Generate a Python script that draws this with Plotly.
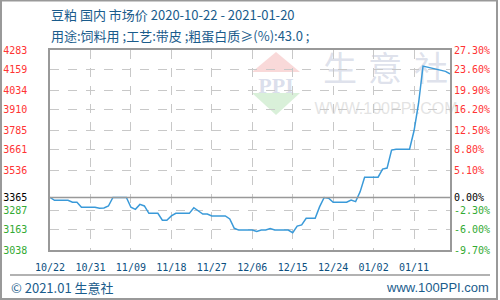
import plotly.graph_objects as go
import pandas as pd

# ---------------- data ----------------
start_date = "2020-10-22"
prices = [
    3365, 3347, 3347, 3347, 3347, 3335, 3335, 3304, 3304, 3304,   # d0-9
    3304, 3298, 3300, 3312, 3365, 3365, 3365, 3365, 3304, 3291,   # d10-19
    3322, 3312, 3266, 3266, 3266, 3223, 3223, 3250, 3266, 3266,   # d20-29
    3266, 3266, 3301, 3283, 3262, 3262, 3250, 3250, 3250, 3250,   # d30-39
    3231, 3173, 3162, 3162, 3162, 3162, 3154, 3162, 3162, 3171,   # d40-49
    3162, 3162, 3162, 3162, 3146, 3187, 3194, 3235, 3235, 3235,   # d50-59
    3308, 3365, 3360, 3335, 3335, 3335, 3335, 3349, 3339, 3400,   # d60-69
    3491, 3491, 3491, 3491, 3542, 3548, 3660, 3665, 3665, 3665,   # d70-79
    3665, 3780, 3950, 4183, 4176, 4169, 4163, 4158, 4150, 4134,   # d80-89
]
dates = pd.date_range(start_date, periods=len(prices)).strftime("%Y-%m-%d").tolist()

base_price = 3365
left_ticks = [4283, 4159, 4034, 3910, 3785, 3661, 3536, 3365, 3287, 3163, 3038]
right_labels = ["27.30%", "23.60%", "19.90%", "16.20%", "12.50%", "8.80%", "5.10%",
                "0.00%", "-2.30%", "-6.00%", "-9.70%"]
x_tick_dates = ["2020-10-22", "2020-10-31", "2020-11-09", "2020-11-18", "2020-11-27",
                "2020-12-06", "2020-12-15", "2020-12-24", "2021-01-02", "2021-01-11"]
x_tick_labels = ["10/22", "10/31", "11/09", "11/18", "11/27",
                 "12/06", "12/15", "12/24", "01/02", "01/11"]
x_range = ["2020-10-22", "2021-01-19"]

title_text = "豆粕 国内 市场价 2020-10-22 - 2021-01-20"
subtitle_text = "用途:饲料用 ;工艺:带皮 ;粗蛋白质≥(%):43.0 ;"
footer_left = "© 2021.01 生意社"
footer_right = "www.100PPI.com"

# ---------------- styling ----------------
W, H = 500, 300
L, R, T, B = 50, 50, 50, 50
RED, GREEN, BLACK = "#ff3333", "#33aa33", "#000000"
BLUE_TXT = "#1a5c8c"
MONO = "DejaVu Sans Mono"
CJK = "Noto Sans CJK SC"


def px(x):
    return (x - L) / (W - L - R)


def py(y):
    return (H - B - y) / (H - T - B)


def tick_color(v):
    if v > base_price:
        return RED
    if v < base_price:
        return GREEN
    return BLACK


left_text = [f'<span style="color:{tick_color(v)}">{v}</span>' for v in left_ticks]
right_text = [f'<span style="color:{tick_color(v)}">{t}</span>' for v, t in zip(left_ticks, right_labels)]

fig = go.Figure()
fig.add_trace(go.Scatter(x=dates, y=prices, mode="lines",
                         line=dict(color="#3a9ad9", width=1.5),
                         hoverinfo="skip", showlegend=False))
fig.add_trace(go.Scatter(x=dates, y=prices, mode="lines", yaxis="y2",
                         line=dict(width=0), opacity=0,
                         hoverinfo="skip", showlegend=False))

grid = dict(showgrid=True, gridcolor="#c8c8c8", gridwidth=1, griddash="dash")

fig.update_layout(
    width=W, height=H,
    margin=dict(l=L, r=R, t=T, b=B, pad=0),
    paper_bgcolor="white", plot_bgcolor="white",
    showlegend=False,
    xaxis=dict(type="date", range=x_range, tickvals=x_tick_dates, ticktext=x_tick_labels,
               tickfont=dict(family=MONO, size=10, color="#0b4f7f"),
               ticks="", ticklabelstandoff=7, automargin=False,
               showline=True, linecolor="#999999", linewidth=1.5, mirror=True,
               zeroline=False, fixedrange=True, **grid),
    yaxis=dict(range=[left_ticks[-1], left_ticks[0]], tickvals=left_ticks, ticktext=left_text,
               tickfont=dict(family=MONO, size=10),
               ticks="", ticklabelstandoff=19, automargin=False,
               showline=True, linecolor="#999999", linewidth=1.5, mirror=True,
               zeroline=False, fixedrange=True, **grid),
    yaxis2=dict(range=[left_ticks[-1], left_ticks[0]], tickvals=left_ticks, ticktext=right_text,
                tickfont=dict(family=MONO, size=10), automargin=False,
                overlaying="y", side="right", ticks="", ticklabelstandoff=3,
                showgrid=False, zeroline=False, showline=False, fixedrange=True),
)

# solid base line at 3365
fig.add_shape(type="line", xref="paper", yref="y", x0=0, x1=1, y0=base_price, y1=base_price,
              line=dict(color="#999999", width=1.5))

# watermark (below the data)
fig.add_shape(type="path", xref="paper", yref="paper", layer="below",
              path=f"M {px(252)} {py(72)} L {px(276)} {py(52)} L {px(300)} {py(72)} Z",
              line=dict(width=0), fillcolor="rgba(235,120,120,0.28)")
fig.add_shape(type="path", xref="paper", yref="paper", layer="below",
              path=f"M {px(252)} {py(93)} L {px(300)} {py(93)} L {px(276)} {py(115)} Z",
              line=dict(width=0), fillcolor="rgba(120,200,120,0.28)")
fig.add_shape(type="rect", xref="paper", yref="paper", layer="below",
              x0=px(252), x1=px(300), y0=py(92), y1=py(74),
              line=dict(width=0), fillcolor="rgba(0,0,0,0)",
              label=dict(text="<b>PPI</b>", textposition="middle center",
                         font=dict(family="Liberation Serif", size=22, color="rgba(160,172,205,0.4)")))
for ch, cx in zip("生意社", [340, 385, 431]):
    fig.add_shape(type="rect", xref="paper", yref="paper", layer="below",
                  x0=px(cx - 20), x1=px(cx + 20), y0=py(90), y1=py(52),
                  line=dict(width=0), fillcolor="rgba(0,0,0,0)",
                  label=dict(text=ch, textposition="middle center",
                             font=dict(family=CJK, size=34, color="rgba(170,180,205,0.4)")))
fig.add_shape(type="rect", xref="paper", yref="paper", layer="below",
              x0=px(320), x1=px(452), y0=py(114), y1=py(98),
              line=dict(width=0), fillcolor="rgba(0,0,0,0)",
              label=dict(text="WWW.100PPI.COM", textposition="middle center",
                         font=dict(family="Liberation Sans", size=16, color="rgba(200,200,200,0.5)")))

# footer separator and outer frame
fig.add_shape(type="line", xref="paper", yref="paper", x0=px(10), x1=px(490), y0=py(275), y1=py(275),
              line=dict(color="#999999", width=1.5))
fig.add_shape(type="rect", xref="paper", yref="paper", x0=px(1), x1=px(497), y0=py(299), y1=py(0.5),
              line=dict(color="#999999", width=2))

# texts
fig.add_annotation(text=title_text, xref="paper", yref="paper", x=px(49), y=py(15),
                   xanchor="left", yanchor="middle", showarrow=False,
                   font=dict(family=CJK, size=13, color=BLUE_TXT))
fig.add_annotation(text=subtitle_text, xref="paper", yref="paper", x=px(49), y=py(35),
                   xanchor="left", yanchor="middle", showarrow=False,
                   font=dict(family=CJK, size=13, color=BLUE_TXT))
fig.add_annotation(text=footer_left, xref="paper", yref="paper", x=px(9), y=py(287),
                   xanchor="left", yanchor="middle", showarrow=False,
                   font=dict(family=CJK, size=13, color=BLUE_TXT))
fig.add_annotation(text=footer_right, xref="paper", yref="paper", x=px(491), y=py(287),
                   xanchor="right", yanchor="middle", showarrow=False,
                   font=dict(family="Liberation Sans", size=13, color=BLUE_TXT))

fig.write_html("out.html", config={"displayModeBar": False})
